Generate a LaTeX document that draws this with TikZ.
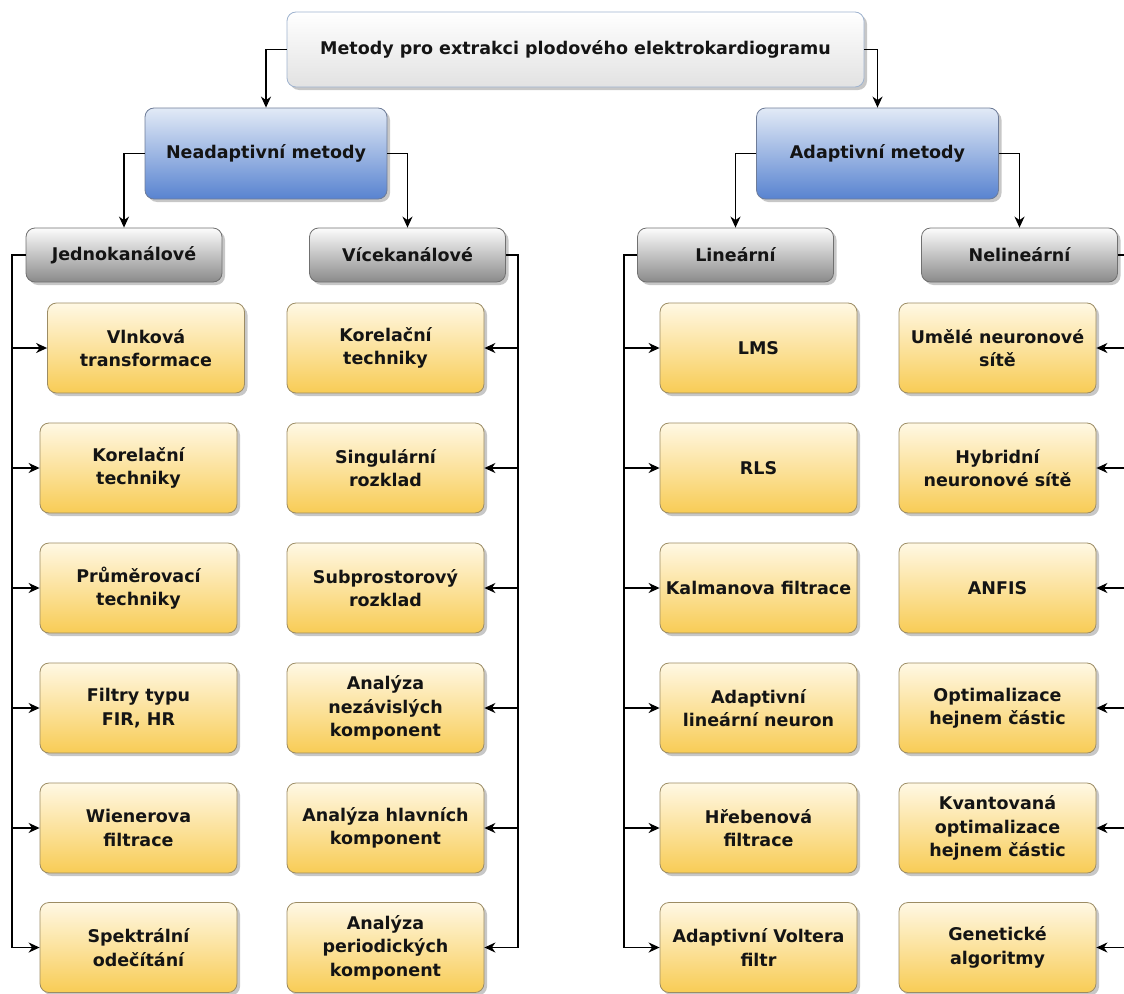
\documentclass[tikz,border=0pt]{standalone}
\usepackage{fontspec}
\setmainfont{DejaVu Sans}
\usetikzlibrary{arrows.meta,shadows,calc}
\definecolor{txt}{HTML}{141414}
\definecolor{ytop}{HTML}{FFF8E4}
\definecolor{ymid}{HTML}{FEE6A2}
\definecolor{ybot}{HTML}{F8CC55}
\definecolor{yedge}{HTML}{9C8C64}
\definecolor{btop}{HTML}{E2EAF6}
\definecolor{bmid}{HTML}{9DB7E2}
\definecolor{bbot}{HTML}{5883D0}
\definecolor{bedge}{HTML}{6E7C98}
\definecolor{gtop}{HTML}{FCFCFC}
\definecolor{gmid}{HTML}{D2D2D2}
\definecolor{gbot}{HTML}{8A8A8A}
\definecolor{gedge}{HTML}{707070}
\definecolor{ttop}{HTML}{FFFFFF}
\definecolor{tbot}{HTML}{E2E2E2}
\definecolor{tedge}{HTML}{9FB3CF}
\begin{document}
\begin{tikzpicture}[x=1pt,y=-1pt,
  base/.style={rounded corners=9pt, align=center, text=txt, inner sep=0pt,
    line width=0.8pt, font=\fontsize{17.5}{23.5}\selectfont\bfseries,
    drop shadow={shadow xshift=3pt,shadow yshift=-3pt,opacity=0.22,fill=black}},
  topbox/.style={base, draw=tedge, top color=ttop, bottom color=tbot,
    minimum width=577pt, minimum height=75pt},
  bluebox/.style={base, draw=bedge, top color=btop, middle color=bmid, bottom color=bbot,
    minimum width=242pt, minimum height=91pt},
  graybox/.style={base, draw=gedge, top color=gtop, middle color=gmid, bottom color=gbot,
    minimum width=196pt, minimum height=54pt},
  yelbox/.style={base, draw=yedge, top color=ytop, middle color=ymid, bottom color=ybot,
    minimum width=197pt, minimum height=90pt},
  conn/.style={line width=1.4pt, draw=black},
  arr/.style={conn, -{Stealth[length=11pt,width=10pt,inset=3.5pt]}}
]
\useasboundingbox (0,0) rectangle (1124,993);

% top
\node[topbox] (top) at (575.5,49.5) {Metody pro extrakci plodového elektrokardiogramu};
% level 2
\node[bluebox] (nead) at (266,153.5) {Neadaptivní metody};
\node[bluebox] (adap) at (877.5,153.5) {Adaptivní metody};
% level 3
\node[graybox] (jedno) at (124,255) {Jednokanálové};
\node[graybox] (vice) at (407.5,255) {Vícekanálové};
\node[graybox] (lin) at (735.5,255) {Lineární};
\node[graybox] (nelin) at (1019.5,255) {Nelineární};

% column 1
\node[yelbox] (a1) at (146,348) {Vlnková\\transformace};
\node[yelbox] (a2) at (138.5,468) {Korelační\\techniky};
\node[yelbox] (a3) at (138.5,588) {Průměrovací\\techniky};
\node[yelbox] (a4) at (138.5,708) {Filtry typu\\FIR, HR};
\node[yelbox] (a5) at (138.5,828) {Wienerova\\filtrace};
\node[yelbox] (a6) at (138.5,947.5) {Spektrální\\odečítání};
% column 2
\node[yelbox] (b1) at (385.5,348) {Korelační\\techniky};
\node[yelbox] (b2) at (385.5,468) {Singulární\\rozklad};
\node[yelbox] (b3) at (385.5,588) {Subprostorový\\rozklad};
\node[yelbox] (b4) at (385.5,708) {Analýza\\nezávislých\\komponent};
\node[yelbox] (b5) at (385.5,828) {Analýza hlavních\\komponent};
\node[yelbox] (b6) at (385.5,947.5) {Analýza\\periodických\\komponent};
% column 3
\node[yelbox] (c1) at (758.5,348) {LMS};
\node[yelbox] (c2) at (758.5,468) {RLS};
\node[yelbox] (c3) at (758.5,588) {Kalmanova filtrace};
\node[yelbox] (c4) at (758.5,708) {Adaptivní\\lineární neuron};
\node[yelbox] (c5) at (758.5,828) {Hřebenová\\filtrace};
\node[yelbox] (c6) at (758.5,947.5) {Adaptivní Voltera\\filtr};
% column 4
\node[yelbox] (d1) at (997.5,348) {Umělé neuronové\\sítě};
\node[yelbox] (d2) at (997.5,468) {Hybridní\\neuronové sítě};
\node[yelbox] (d3) at (997.5,588) {ANFIS};
\node[yelbox] (d4) at (997.5,708) {Optimalizace\\hejnem částic};
\node[yelbox] (d5) at (997.5,828) {Kvantovaná\\optimalizace\\hejnem částic};
\node[yelbox] (d6) at (997.5,947.5) {Genetické\\algoritmy};

% rails
\coordinate (r1) at (12,0);
\coordinate (r2) at (518,0);
\coordinate (r3) at (624,0);
\coordinate (r4) at (1134,0);

% tree connectors
\draw[arr] (top.west) -| (nead.north);
\draw[arr] (top.east) -| (adap.north);
\draw[arr] (nead.west) -| (jedno.north);
\draw[arr] (nead.east) -| (vice.north);
\draw[arr] (adap.west) -| (lin.north);
\draw[arr] (adap.east) -| (nelin.north);

% column 1
\draw[arr] (jedno.west) -- (jedno.west -| r1) |- (a6.west);
\foreach \n in {a1,a2,a3,a4,a5}{\draw[arr] (\n.west -| r1) -- (\n.west);}
% column 2
\draw[arr] (vice.east) -- (vice.east -| r2) |- (b6.east);
\foreach \n in {b1,b2,b3,b4,b5}{\draw[arr] (\n.east -| r2) -- (\n.east);}
% column 3
\draw[arr] (lin.west) -- (lin.west -| r3) |- (c6.west);
\foreach \n in {c1,c2,c3,c4,c5}{\draw[arr] (\n.west -| r3) -- (\n.west);}
% column 4
\draw[arr] (nelin.east) -- (nelin.east -| r4) |- (d6.east);
\foreach \n in {d1,d2,d3,d4,d5}{\draw[arr] (\n.east -| r4) -- (\n.east);}
\end{tikzpicture}
\end{document}
